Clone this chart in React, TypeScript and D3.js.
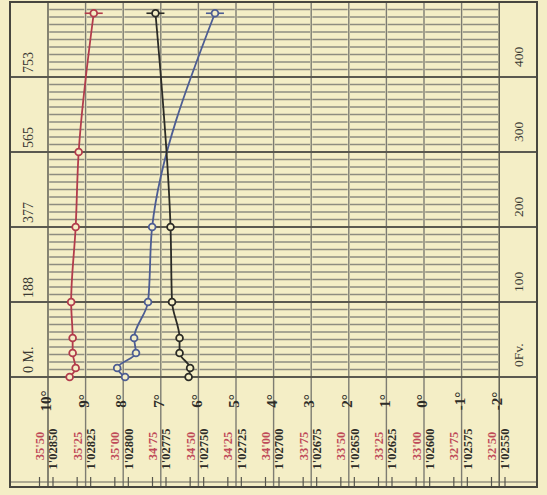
import React, { useEffect, useRef } from 'react';
import * as d3 from 'd3';

// depth of each observation, in Danish fathoms (Fv.)
const depthsFv = [0, 12, 32, 52, 100, 200, 485];
const salinityDepthsFv = [0, 12, 32, 52, 100, 200, 300, 485];

// observed values
const salinity = [35.3, 35.26, 35.28, 35.28, 35.29, 35.26, 35.24, 35.14];
const temperature = [7.95, 8.16, 7.66, 7.71, 7.34, 7.23, 5.56];
const density = [1.0276, 1.02759, 1.02766, 1.02766, 1.02771, 1.02772, 1.02782];

// axis labels
const tempTicks = [10, 9, 8, 7, 6, 5, 4, 3, 2, 1, 0, -1, -2];
const salinityTicks = [35.5, 35.25, 35.0, 34.75, 34.5, 34.25, 34.0, 33.75, 33.5, 33.25, 33.0, 32.75, 32.5];
const densityTicks = [1.0285, 1.02825, 1.028, 1.02775, 1.0275, 1.02725, 1.027, 1.02675, 1.0265, 1.02625, 1.026, 1.02575, 1.0255];
const majorDepths = [0, 100, 200, 300, 400];
const meterLabels = ['0 M.', '188', '377', '565', '753'];
const fathomLabels = ['0Fv.', '100', '200', '300', '400'];

const PAPER = '#f4eec6';
const RED = '#b23c4c';
const BLUE = '#4d5d93';
const BLACK = '#2b2b26';

const App: React.FC = () => {
  const svgRef = useRef<SVGSVGElement>(null);

  useEffect(() => {
    if (!svgRef.current) return;
    const svg = d3.select(svgRef.current);
    svg.selectAll('*').remove();

    const left = 10, right = 537, top = 2, bottom = 487;
    const plotLeft = 48, plotRight = 499.2, plotBottom = 377;

    const y = d3.scaleLinear().domain([0, 500]).range([plotBottom, top]);
    const xTemp = d3.scaleLinear().domain([10, -2]).range([plotLeft, plotRight]);
    const xSal = d3.scaleLinear().domain([35.5, 32.5]).range([39.5, 491.5]);
    const xDen = d3.scaleLinear().domain([1.0285, 1.0255]).range([53, 505]);

    svg.append('rect').attr('width', 547).attr('height', 495).attr('fill', PAPER);

    // minor depth lines every 10 fathoms, broken at each column
    const minor = d3.range(10, 500, 10).filter(d => d % 100 !== 0);
    const g = svg.append('g');
    tempTicks.slice(0, -1).forEach((t, i) => {
      const x0 = xTemp(t) + 1.2, x1 = xTemp(tempTicks[i + 1]) - 1.2;
      g.selectAll(null)
        .data(minor)
        .enter().append('line')
        .attr('x1', x0).attr('x2', x1)
        .attr('y1', d => y(d)).attr('y2', d => y(d))
        .attr('stroke', '#8e8d80')
        .attr('stroke-width', 1.6);
    });

    // vertical degree lines
    g.selectAll(null)
      .data(tempTicks)
      .enter().append('line')
      .attr('x1', d => xTemp(d)).attr('x2', d => xTemp(d))
      .attr('y1', top).attr('y2', bottom)
      .attr('stroke', (d, i) => (i === 0 || i === tempTicks.length - 1 ? '#55554d' : '#7d7c72'))
      .attr('stroke-width', 1.4);

    // major depth lines across the whole frame
    g.selectAll(null)
      .data(majorDepths)
      .enter().append('line')
      .attr('x1', left).attr('x2', right)
      .attr('y1', d => y(d)).attr('y2', d => y(d))
      .attr('stroke', '#5a5950')
      .attr('stroke-width', 1.8);

    // bottom scale line with ticks
    g.append('line')
      .attr('x1', left).attr('x2', right)
      .attr('y1', 482).attr('y2', 482)
      .attr('stroke', '#66655c').attr('stroke-width', 1);
    const tickXs = [...salinityTicks.map(s => xSal(s)), ...densityTicks.map(d => xDen(d))];
    g.selectAll(null)
      .data(tickXs)
      .enter().append('line')
      .attr('x1', d => d).attr('x2', d => d)
      .attr('y1', 477).attr('y2', bottom)
      .attr('stroke', '#55554d').attr('stroke-width', 1.2);

    // frame
    g.append('rect')
      .attr('x', left).attr('y', top)
      .attr('width', right - left).attr('height', bottom - top)
      .attr('fill', 'none')
      .attr('stroke', '#47463f')
      .attr('stroke-width', 2);

    const rotated = (sel: d3.Selection<SVGGElement, unknown, null, undefined>, data: any[], xf: (d: any, i: number) => number, yf: (d: any, i: number) => number, text: (d: any, i: number) => string, anchor: string, size: number, color: string, weight: string) => {
      sel.selectAll(null)
        .data(data)
        .enter().append('text')
        .attr('transform', (d, i) => `translate(${xf(d, i)},${yf(d, i)}) rotate(-90)`)
        .attr('text-anchor', anchor)
        .attr('dy', '0.35em')
        .style('font-family', '"Liberation Serif", "DejaVu Serif", serif')
        .style('font-size', `${size}px`)
        .style('font-weight', weight)
        .attr('fill', color)
        .text(text);
    };

    const labels = svg.append('g');
    rotated(labels, tempTicks, d => xTemp(d) - 2, () => 401, d => `${d}°`, 'middle', 15, '#2e2d28', 'bold');
    rotated(labels, salinityTicks, d => xSal(d), () => 446, d => d3.format('.2f')(d).replace('.', "'"), 'middle', 12.5, '#bf4a58', 'bold');
    rotated(labels, densityTicks, d => xDen(d), () => 449, d => d3.format('.5f')(d).replace('.', "'"), 'middle', 12.5, '#2e2d28', 'bold');
    rotated(labels, majorDepths, () => 28, d => y(d) - 4, (d, i) => meterLabels[i], 'start', 14, '#3a3933', 'normal');
    rotated(labels, majorDepths, () => 518, d => y(d) - 10, (d, i) => fathomLabels[i], 'start', 13.5, '#3a3933', 'normal');

    // curves
    const series = [
      { depths: salinityDepthsFv, values: salinity, x: xSal, color: RED },
      { depths: depthsFv, values: temperature, x: xTemp, color: BLUE },
      { depths: depthsFv, values: density, x: xDen, color: BLACK },
    ];

    series.forEach(s => {
      const pts: [number, number][] = s.values.map((v, i) => [s.x(v), y(s.depths[i])]);
      const line = d3.line<[number, number]>()
        .x(d => d[0]).y(d => d[1])
        .curve(d3.curveMonotoneY);
      svg.append('path')
        .datum(pts)
        .attr('fill', 'none')
        .attr('stroke', s.color)
        .attr('stroke-width', 1.8)
        .attr('d', line);

      const last = pts[pts.length - 1];
      svg.append('line')
        .attr('x1', last[0] - 9).attr('x2', last[0] + 9)
        .attr('y1', last[1]).attr('y2', last[1])
        .attr('stroke', s.color).attr('stroke-width', 1.6);

      svg.selectAll(null)
        .data(pts)
        .enter().append('circle')
        .attr('cx', d => d[0])
        .attr('cy', d => d[1])
        .attr('r', 3.4)
        .attr('fill', PAPER)
        .attr('stroke', s.color)
        .attr('stroke-width', 1.8);
    });
  }, []);

  return <svg ref={svgRef} width={547} height={495} style={{ position: 'absolute', left: 0, top: 0 }} />;
};

export default App;
